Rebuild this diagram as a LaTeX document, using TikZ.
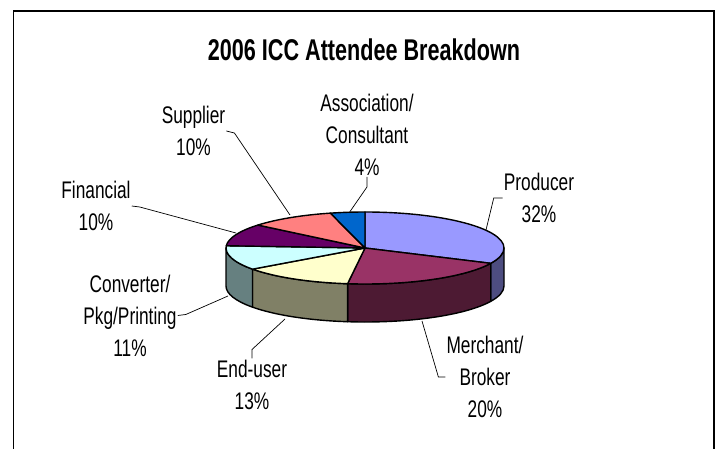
\documentclass[tikz,border=0pt]{standalone}
\usepackage{fontspec}
\setmainfont{Liberation Sans}[FakeStretch=0.72]
\definecolor{prodtop}{HTML}{9999FF}
\definecolor{prodside}{HTML}{4D4D80}
\definecolor{merchtop}{HTML}{993366}
\definecolor{merchside}{HTML}{4D1A33}
\definecolor{endtop}{HTML}{FFFFCC}
\definecolor{endside}{HTML}{808066}
\definecolor{convtop}{HTML}{CCFFFF}
\definecolor{convside}{HTML}{668080}
\definecolor{fintop}{HTML}{660066}
\definecolor{suptop}{HTML}{FF8080}
\definecolor{assoctop}{HTML}{0066CC}
\begin{document}
\begin{tikzpicture}[x=1pt,y=1pt,
    rim/.style={x radius=139pt,y radius=36pt},
    slice/.style={draw,line width=1.4pt,line join=round},
    lbl/.style={align=center,inner sep=1pt,font=\fontsize{24}{32}\selectfont},
    lead/.style={draw,line width=0.7pt}]
  \useasboundingbox (0,0) rectangle (717,448);
  \draw[line width=1.5pt] (13.5,-2) -- (13.5,437) -- (714,437) -- (714,-2);
  \node (title) at (364,398) {\fontsize{30}{32}\selectfont\bfseries 2006 ICC Attendee Breakdown};
  \begin{scope}[shift={(365,200)}]
    \foreach \a/\b/\c in {0/-25.2/prodside,-25.2/-97.2/merchside,-97.2/-144/endside,-144/-180/convside}
      \path[slice,fill=\c] (\a:139 and 36) arc[rim,start angle=\a,end angle=\b]
        -- ++(0,-38) arc[rim,start angle=\b,end angle=\a] -- cycle;
    \foreach \a/\b/\c in {90/-25.2/prodtop,-25.2/-97.2/merchtop,-97.2/-144/endtop,
        -144/-183.6/convtop,-183.6/-219.6/fintop,-219.6/-255.6/suptop,-255.6/-270/assoctop}
      \path[slice,fill=\c] (0,0) -- (\a:139 and 36) arc[rim,start angle=\a,end angle=\b] -- cycle;
    \coordinate (e-prod) at (121,18);
    \coordinate (e-merch) at (57,-73);
    \coordinate (e-end) at (-80,-71);
    \coordinate (e-conv) at (-137,-48);
    \coordinate (e-fin) at (-129,15);
    \coordinate (e-sup) at (-75,33);
    \coordinate (e-assoc) at (-16,35);
  \end{scope}
  \node[lbl] (prod) at (539,250) {Producer\\32\%};
  \node[lbl] (merch) at (485,71) {Merchant/\\Broker\\20\%};
  \node[lbl] (end) at (252,63.5) {End-user\\13\%};
  \node[lbl] (conv) at (130,132.5) {Converter/\\Pkg/Printing\\11\%};
  \node[lbl] (fin) at (96,242) {Financial\\10\%};
  \node[lbl] (sup) at (193.5,317) {Supplier\\10\%};
  \node[lbl] (assoc) at (367,313) {Association/\\Consultant\\4\%};
  \path[lead] (prod.west) -- ++(-9,0) -- (e-prod);
  \path[lead] (merch.west) -- ++(-7,0) -- (e-merch);
  \path[lead] (end.north) -- ++(0,9) -- (e-end);
  \path[lead] (conv.east) -- ++(8,1) -- (e-conv);
  \path[lead] (fin.east) -- ++(8,-1) -- (e-fin);
  \path[lead] (sup.east) -- ++(8,-2) -- (e-sup);
  \path[lead] (assoc.south) -- ++(0,-10) -- (e-assoc);
\end{tikzpicture}
\end{document}
